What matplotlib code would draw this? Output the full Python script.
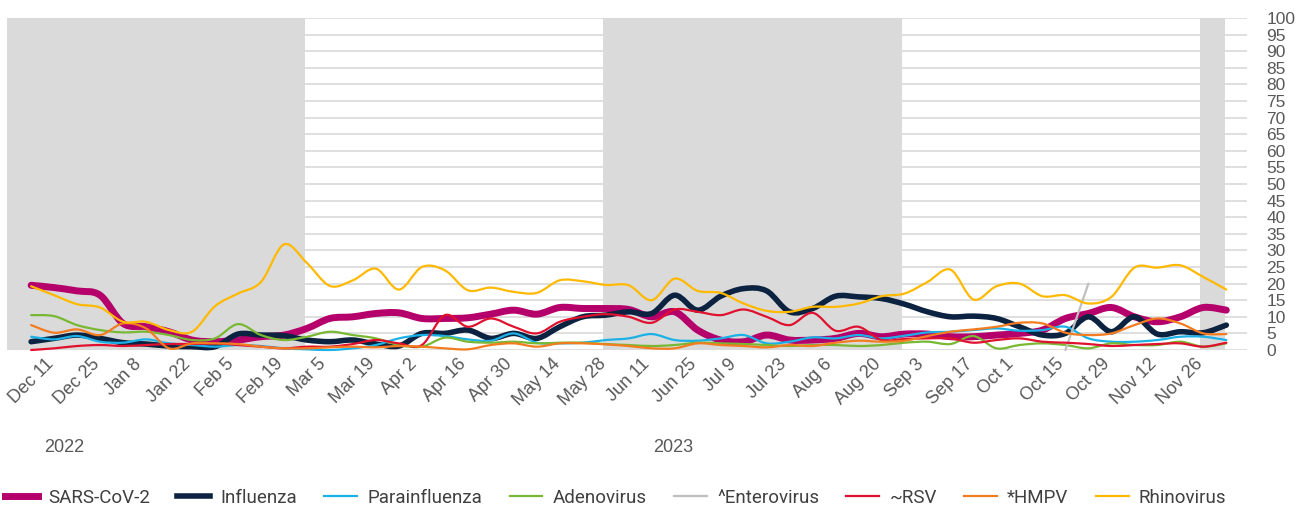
import matplotlib
matplotlib.use("Agg")
import matplotlib.pyplot as plt
import numpy as np
from matplotlib.path import Path
from matplotlib.patches import PathPatch
from matplotlib.lines import Line2D

plt.rcParams['font.family'] = ['Liberation Sans', 'DejaVu Sans']

# weekly data, Dec 11 2022 .. Dec 10 2023 (53 weeks)
tick_labels = ["Dec 11", "Dec 25", "Jan 8", "Jan 22", "Feb 5", "Feb 19", "Mar 5", "Mar 19",
               "Apr 2", "Apr 16", "Apr 30", "May 14", "May 28", "Jun 11", "Jun 25", "Jul 9",
               "Jul 23", "Aug 6", "Aug 20", "Sep 3", "Sep 17", "Oct 1", "Oct 15", "Oct 29",
               "Nov 12", "Nov 26"]

sars = [19.5, 18.8, 17.8, 16.5, 8, 7, 5.5, 3, 2.5, 3, 4, 4.5, 6.5,
        9.5, 10, 11, 11.2, 9.5, 9.5, 9.7, 10.8, 12, 10.8, 12.8, 12.5, 12.5,
        12.2, 10, 11.5, 6, 3, 2.5, 4.5, 3, 3, 3.5, 5, 4, 4.8,
        4.8, 4, 4, 4.5, 5, 6, 9.5, 11, 12.8, 10, 8.5, 10, 12.8, 12]
flu = [2.5, 3.5, 4.5, 3.5, 2.2, 1.8, 1.2, 1, 1, 4.8, 4.5, 4.3, 3,
       2.5, 3, 1.8, 1.2, 5, 5, 6, 3.5, 5, 3.5, 7, 10, 10.5,
       11.5, 11, 16.5, 12, 16.2, 18.5, 17.8, 11.5, 12.5, 16.2, 16, 15.5, 13.8,
       11.5, 10, 10.2, 9.5, 7, 4.5, 5, 10, 5.5, 10, 4.8, 5.5, 5.2, 7.5]
para = [4, 3.2, 4.2, 2.5, 2.2, 3.2, 2, 1.5, 1, 1.5, 1.2, 0.5, 0.2,
        0, 0.5, 1.5, 3.5, 4.5, 4.2, 3.2, 2.8, 5, 2.2, 2, 2.2, 3,
        3.5, 4.8, 3, 2.8, 3.5, 4.5, 2, 2.5, 3.8, 3.5, 4.5, 3.5, 4.3,
        5.3, 5.5, 6, 6.5, 5.8, 6, 7, 3.5, 2.5, 2.5, 3, 4, 4, 3]
adeno = [10.5, 10.2, 7.5, 6, 5.3, 5.5, 4.5, 3, 3.5, 7.8, 4.5, 3, 4,
         5.5, 4.5, 3.5, 1.5, 1, 3.7, 2.5, 2.2, 2.5, 2, 2.2, 2.2, 1.8,
         1.5, 1.2, 1.5, 2.2, 2, 1.8, 1.5, 1.2, 1.5, 1.5, 1.2, 1.5, 2.2,
         2.5, 1.8, 4.2, 0.5, 1.5, 2, 1.5, 0.5, 2, 1.5, 1.5, 2.5, 1, 2]
entero = [np.nan] * 45 + [0, 20] + [np.nan] * 6
rsv = [0, 0.5, 1.2, 1.5, 1.2, 1.5, 1.8, 1.8, 2, 1.5, 1, 0.5, 1,
       1, 1.8, 3, 2, 1.5, 10.5, 7, 9.5, 7, 5, 8.5, 10, 10.8,
       10, 8.2, 12.2, 11.5, 10.5, 12.2, 10, 7.5, 11.2, 5.8, 7, 3, 3.3,
       3.5, 3.5, 2.2, 3, 3.5, 2.5, 2.2, 1.8, 1.2, 1.5, 1.8, 2, 1, 2.2]
hmpv = [7.5, 5.2, 6.2, 4.5, 8, 6.5, 0.5, 2, 2, 1.8, 1, 0.5, 0.5,
        0.8, 1, 0.8, 1.2, 1, 0.5, 0.2, 1.5, 2, 1, 2, 2, 1.7,
        1.2, 0.5, 0.5, 2, 1.5, 1.2, 0.8, 1.5, 1.2, 2.2, 2.8, 2.5, 2.8,
        4.2, 5.5, 6.2, 7, 8.2, 8, 5.2, 4.5, 5, 7.5, 9.5, 8, 5, 4.8]
rhino = [19.2, 16.5, 13.8, 12.8, 8.5, 8.5, 6, 5.5, 13.2, 17, 20.5, 31.8, 26.2,
         19.3, 21, 24.5, 18.2, 25, 24, 18, 18.8, 17.5, 17.2, 21, 20.7, 19.6,
         19.5, 15, 21.5, 17.8, 17.2, 14, 11.8, 11.5, 13, 13, 14, 16.2, 17,
         20.5, 24.2, 15.2, 19.2, 20, 16.2, 16.5, 14, 16, 24.8, 24.8, 25.5, 22, 18.2]

names = ["SARS-CoV-2", "Influenza", "Parainfluenza", "Adenovirus", "^Enterovirus", "~RSV", "*HMPV", "Rhinovirus"]
series = [sars, flu, para, adeno, entero, rsv, hmpv, rhino]
colors = ["#B5006B", "#0B2240", "#1BB1E7", "#78B833", "#BFBFBF", "#E0112E", "#F47C20", "#FFB900"]
widths = [5.0, 4.0, 1.6, 1.6, 1.6, 1.6, 1.6, 1.6]


def smooth_path(x, y):
    # cubic bezier through the points (excel-like smoothed line)
    verts, codes = [], []
    idx = np.flatnonzero(~np.isnan(y))
    runs = np.split(idx, np.flatnonzero(np.diff(idx) > 1) + 1)
    for r in runs:
        px, py = x[r], y[r]
        n = len(px)
        verts.append((px[0], py[0]))
        codes.append(Path.MOVETO)
        for i in range(n - 1):
            i0 = max(i - 1, 0)
            i3 = min(i + 2, n - 1)
            c1 = (px[i] + (px[i + 1] - px[i0]) / 6, py[i] + (py[i + 1] - py[i0]) / 6)
            c2 = (px[i + 1] - (px[i3] - px[i]) / 6, py[i + 1] - (py[i3] - py[i]) / 6)
            verts += [c1, c2, (px[i + 1], py[i + 1])]
            codes += [Path.CURVE4] * 3
    return Path(verts, codes)


fig = plt.figure(figsize=(13.12, 5.12), dpi=100)
ax = fig.add_axes([7 / 1312, 1 - 350 / 512, 1240 / 1312, 332 / 512])

x = np.arange(len(sars), dtype=float)
for vals, c, lw in zip(series, colors, widths):
    p = PathPatch(smooth_path(x, np.array(vals, dtype=float)), fill=False, edgecolor=c,
                  lw=lw, capstyle='round', joinstyle='round', zorder=3, clip_on=False)
    ax.add_patch(p)

# season shading
for a, b in [(-1.05, 11.9), (24.9, 37.9), (50.85, 51.95)]:
    ax.axvspan(a, b, color='#DADADA', lw=0, zorder=1)

ax.set_xlim(-1.05, 52.9)
ax.set_ylim(0, 100)
ax.set_axisbelow(True)
ax.grid(axis='y', color='#DCDCDC', lw=1.3)
ax.grid(axis='x', visible=False)
for s in ax.spines.values():
    s.set_visible(False)

ax.set_yticks(range(0, 101, 5))
ax.yaxis.tick_right()
ax.tick_params(axis='y', length=0, pad=14, labelsize=12.5, labelcolor='#595959')
ax.set_xticks(np.arange(0, 52, 2))
ax.set_xticklabels(tick_labels, rotation=45, ha='center')
ax.tick_params(axis='x', length=0, pad=4, labelsize=13, labelcolor='#595959')

fig.text(64 / 1312, 1 - 447 / 512, "2022", ha='center', va='center', fontsize=13, color='#595959')
fig.text(673 / 1312, 1 - 447 / 512, "2023", ha='center', va='center', fontsize=13, color='#595959')

handles = [Line2D([], [], color=c, lw=lw) for c, lw in zip(colors, widths)]
fig.legend(handles, names, ncol=8, loc='center left', bbox_to_anchor=(5 / 1312, 1 - 498 / 512),
           frameon=False, prop={'family': 'Roboto', 'size': 13.5}, labelcolor='#404040',
           handlelength=1.75, handletextpad=0.55, columnspacing=1.45,
           borderaxespad=0, borderpad=0)

fig.savefig("out.png", dpi=100)
